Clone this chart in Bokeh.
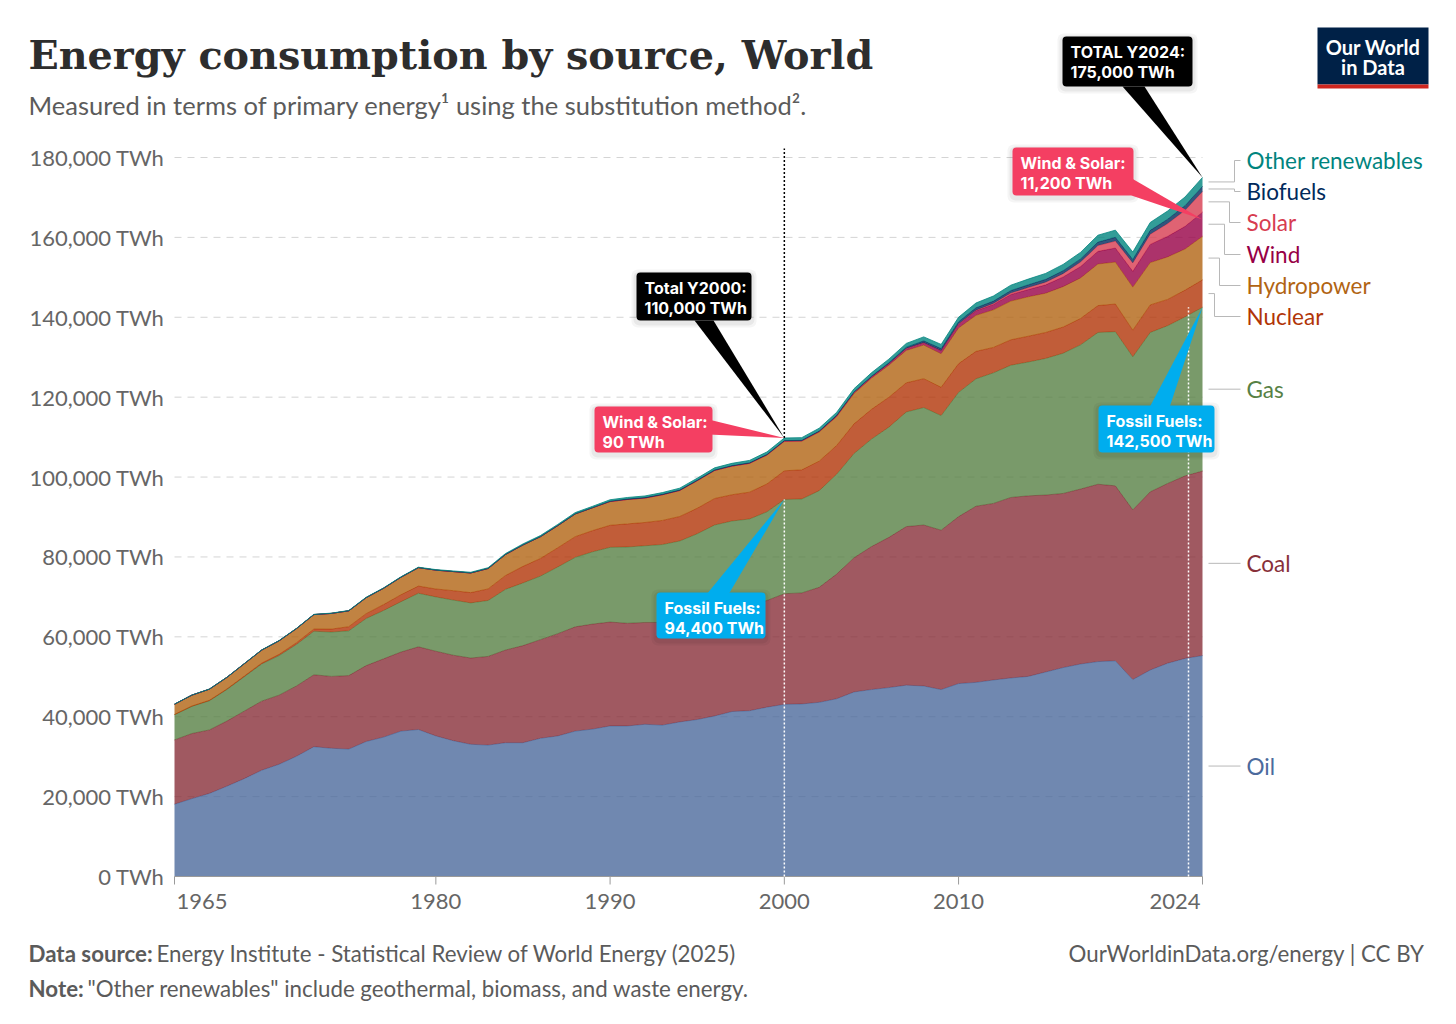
import pandas as pd
from bokeh.plotting import figure
from bokeh.core.properties import value
from bokeh.embed import file_html
from bokeh.resources import INLINE

# ---- data (TWh, substitution method) ----
years = list(range(1965, 2025))

oil = [18100, 19500, 20800, 22600, 24500, 26600, 28100, 30100, 32500, 32100,
       31900, 33800, 34900, 36400, 36800, 35200, 34000, 33100, 32900, 33500,
       33500, 34600, 35200, 36400, 36900, 37700, 37700, 38100, 37900, 38700,
       39300, 40200, 41300, 41500, 42400, 43100, 43200, 43600, 44500, 46200,
       46800, 47300, 47900, 47700, 46800, 48300, 48600, 49200, 49700, 50100,
       51200, 52300, 53200, 53800, 54000, 49300, 51700, 53400, 54600, 55300]
coal = [16100, 16300, 15900, 16300, 16900, 17300, 17300, 17600, 18000, 18000,
        18400, 19000, 19600, 19800, 20700, 21200, 21400, 21600, 22200, 23200,
        24300, 24700, 25600, 26100, 26300, 26000, 25700, 25500, 25700, 25700,
        26200, 26500, 26500, 26400, 26700, 27700, 27800, 28800, 31200, 33600,
        35800, 37600, 39700, 40300, 39900, 41800, 44100, 44200, 45200, 45200,
        44300, 43600, 43800, 44400, 43800, 42500, 44600, 45000, 45700, 46200]
gas = [6300, 6800, 7300, 7900, 8600, 9300, 9900, 10400, 10900, 11100,
       11200, 11800, 12100, 12600, 13400, 13600, 13800, 13800, 14000, 15200,
       15700, 15900, 16700, 17400, 18100, 18700, 19100, 19200, 19500, 19600,
       20300, 21300, 21200, 21600, 22200, 23600, 23500, 24200, 25000, 26100,
       26900, 27600, 28700, 29400, 28700, 31100, 31900, 32700, 33100, 33500,
       34200, 35100, 36100, 38000, 38600, 38300, 39900, 39500, 39800, 41000]
nuclear = [70, 90, 110, 140, 170, 220, 310, 430, 560, 740,
           1040, 1210, 1480, 1740, 1810, 1980, 2360, 2570, 2900, 3470,
           4140, 4420, 4810, 5180, 5310, 5530, 5780, 5830, 6040, 6140,
           6390, 6640, 6580, 6720, 6970, 7170, 7310, 7380, 7190, 7420,
           7450, 7480, 7300, 7230, 7080, 7200, 6870, 6360, 6370, 6460,
           6500, 6560, 6600, 6730, 6920, 6670, 6900, 6580, 6700, 6870]
hydro = [2560, 2720, 2780, 2890, 3080, 3250, 3390, 3530, 3610, 3920,
         3970, 4000, 4080, 4390, 4610, 4720, 4780, 4920, 5110, 5250,
         5360, 5440, 5530, 5690, 5720, 5920, 6110, 6110, 6420, 6500,
         6890, 7000, 7140, 7190, 7220, 7360, 7180, 7270, 7220, 7580,
         7800, 8020, 8100, 8400, 8390, 8920, 9020, 9400, 9680, 9870,
         9820, 10110, 10150, 10410, 10490, 10780, 10590, 10630, 10290, 10900]
wind = [0, 0, 0, 0, 0, 0, 0, 0, 0, 0,
        0, 0, 0, 0, 0, 0, 0, 1, 2, 3,
        6, 8, 10, 11, 12, 11, 13, 15, 18, 20,
        22, 26, 33, 42, 60, 86, 105, 143, 172, 230,
        280, 356, 452, 581, 724, 892, 1132, 1345, 1651, 1812,
        2102, 2419, 2850, 3163, 3523, 3955, 4556, 5153, 5672, 6050]
solar = [0, 0, 0, 0, 0, 0, 0, 0, 0, 0,
         0, 0, 0, 0, 0, 0, 0, 0, 0, 0,
         0, 0, 0, 0, 0, 1, 1, 1, 1, 1,
         1, 2, 2, 2, 2, 3, 4, 5, 6, 7,
         11, 14, 20, 32, 52, 83, 163, 250, 346, 484,
         648, 828, 1118, 1445, 1737, 2089, 2537, 3190, 4010, 5150]
biofuels = [0, 0, 0, 0, 0, 0, 0, 0, 0, 0,
            0, 0, 0, 0, 0, 0, 0, 0, 0, 0,
            0, 0, 0, 0, 0, 100, 105, 100, 100, 105,
            115, 120, 125, 120, 110, 110, 115, 130, 160, 180,
            215, 270, 350, 470, 520, 590, 600, 600, 650, 710,
            730, 750, 800, 880, 950, 890, 980, 1100, 1200, 1290]
other = [30, 32, 35, 38, 42, 48, 52, 58, 65, 75,
         80, 88, 95, 105, 115, 130, 150, 170, 195, 230,
         260, 280, 300, 320, 340, 360, 380, 410, 430, 460,
         490, 520, 560, 590, 620, 650, 650, 700, 740, 800,
         840, 880, 930, 980, 1040, 1120, 1190, 1270, 1340, 1420,
         1480, 1560, 1630, 1720, 1790, 1850, 1970, 2050, 2150, 2250]

sources = ["Oil", "Coal", "Gas", "Nuclear", "Hydropower", "Wind", "Solar",
           "Biofuels", "Other renewables"]
colors = ["#4C6A9C", "#883039", "#578145", "#B13507", "#B16413", "#970046",
          "#D73C50", "#00295B", "#00847E"]

y_ticks = [0, 20000, 40000, 60000, 80000, 100000, 120000, 140000, 160000, 180000]
x_ticks = [1965, 1980, 1990, 2000, 2010, 2024]

df = pd.DataFrame(dict(zip(sources, [oil, coal, gas, nuclear, hydro, wind, solar,
                                     biofuels, other])), index=years)
cum = df.cumsum(axis=1)
fossil = cum["Gas"]
total = cum["Other renewables"]

# ---- geometry: the frame is the whole canvas, positions given in pixels ----
W, H = 1440, 1008
PPY = (1202 - 174) / (2024 - 1965)      # pixels per year
TPP = 180000 / (876 - 157)              # TWh per pixel


def X(px):
    return 1965 + (px - 174) / PPY


def Y(py):
    return (876 - py) * TPP


p = figure(width=W, height=H, output_backend="svg", toolbar_location=None,
           x_range=(X(0), X(W)), y_range=(Y(H), Y(0)),
           x_axis_location=None, y_axis_location=None,
           min_border=0)
p.outline_line_color = None
p.grid.visible = False
p.background_fill_color = "white"
p.border_fill_color = "white"

LATO = value("Lato")
GREY = "#666666"

# y axis labels + dashed grid across the data area
grid = [t for t in y_ticks if t > 0]
p.segment(x0=[1965] * len(grid), y0=grid, x1=[2024] * len(grid), y1=grid,
          line_color="#d4d4d4", line_dash="7 6", line_width=1)
p.text(x=[X(164)] * len(y_ticks), y=y_ticks, text=[f"{t:,} TWh" for t in y_ticks],
       text_font=LATO, text_font_size="22px", text_color=GREY,
       text_align="right", text_baseline="middle")

# stacked areas
prev = [0] * len(years)
for name, c in zip(sources, colors):
    top = cum[name].tolist()
    p.varea(x=years, y1=prev, y2=top, fill_color=c, fill_alpha=0.8)
    p.line(x=years, y=top, line_color=c, line_width=0.8)
    prev = top

# x axis: baseline, ticks, labels
p.line(x=[1965, 2024], y=[0, 0], line_color="#9a9a9a", line_width=1.2)
p.segment(x0=x_ticks, y0=[0] * len(x_ticks), x1=x_ticks, y1=[Y(884)] * len(x_ticks),
          line_color="#9a9a9a", line_width=1)
for ticks, align, off in ((x_ticks[:1], "left", 2), (x_ticks[1:-1], "center", 0),
                          (x_ticks[-1:], "right", -2)):
    p.text(x=ticks, y=[Y(901)] * len(ticks), text=[str(t) for t in ticks],
           x_offset=off, text_font=LATO, text_font_size="22px", text_color=GREY,
           text_align=align, text_baseline="middle")

# reference lines
p.segment(x0=[2000], y0=[total[2000]], x1=[2000], y1=[Y(148)],
          line_color="black", line_dash="2 2", line_width=1.5)
p.segment(x0=[2000], y0=[0], x1=[2000], y1=[fossil[2000]],
          line_color="white", line_dash="2 2", line_width=1.5)
p.segment(x0=[X(1188)], y0=[0], x1=[X(1188)], y1=[fossil[2024]],
          line_color="white", line_dash="2 2", line_width=1.5)


def callout(box, base, tip, color, lines):
    l, t, r, b = box
    for grow, a in ((5, 0.04), (3, 0.05)):
        p.quad(left=[X(l - grow)], right=[X(r + grow)], top=[Y(t - grow + 2)],
               bottom=[Y(b + grow + 2)], fill_color="black", fill_alpha=a,
               line_color=None, border_radius=6)
    p.patch(x=[X(base[0][0]), X(base[1][0]), tip[0]],
            y=[Y(base[0][1]), Y(base[1][1]), tip[1]],
            fill_color=color, line_color=None)
    p.quad(left=[X(l)], right=[X(r)], top=[Y(t)], bottom=[Y(b)],
           fill_color=color, line_color=None, border_radius=4)
    for i, txt in enumerate(lines):
        p.text(x=[X(l + 8)], y=[Y(t + 15 + 20 * i)], text=[txt],
               text_font=value("Inter"), text_font_style="bold",
               text_font_size="16px", text_color="white",
               text_baseline="middle")


pink, black, blue = "#F43F62", "#000000", "#00ADEE"
callout((594, 406, 712, 452), ((708, 419), (708, 434)), (2000, total[2000]),
        pink, ["Wind & Solar:", "90 TWh"])
callout((636, 272, 751, 320), ((694, 320), (713, 320)), (2000, total[2000]),
        black, ["Total Y2000:", "110,000 TWh"])
callout((656, 592, 765, 638), ((706, 594), (728, 594)), (2000, fossil[2000]),
        blue, ["Fossil Fuels:", "94,400 TWh"])
callout((1012, 147, 1133, 195), ((1128, 176), (1128, 194)), (2024, Y(219)),
        pink, ["Wind & Solar:", "11,200 TWh"])
callout((1062, 36, 1192, 86), ((1122, 86), (1144, 86)), (2024, total[2024]),
        black, ["TOTAL Y2024:", "175,000 TWh"])
callout((1098, 405, 1214, 452), ((1149, 407), (1169, 407)), (2024, fossil[2024]),
        blue, ["Fossil Fuels:", "142,500 TWh"])

# right-hand labels with connectors
label_py = {"Other renewables": 160, "Biofuels": 191, "Solar": 222, "Wind": 254,
            "Hydropower": 285, "Nuclear": 316}
elbow_px = {"Other renewables": 1234, "Biofuels": 1234, "Solar": 1229, "Wind": 1224,
            "Hydropower": 1219, "Nuclear": 1214}
lo = 0
for name, c in zip(sources, colors):
    hi = cum[name][2024]
    mid = (lo + hi) / 2
    lo = hi
    ly = Y(label_py[name]) if name in label_py else mid
    if name in elbow_px:
        e = X(elbow_px[name])
        xs, ys = [X(1208), e, e, X(1240)], [mid, mid, ly, ly]
    else:
        xs, ys = [X(1208), X(1240)], [mid, mid]
    p.line(x=xs, y=ys, line_color="#b8b8b8", line_width=1)
    p.text(x=[X(1246)], y=[ly], text=[name], text_font=LATO,
           text_font_size="22.5px", text_color=c, text_baseline="middle")

# logo
p.quad(left=[X(1317)], right=[X(1428)], top=[Y(27)], bottom=[Y(84)],
       fill_color="#002147", line_color=None)
p.quad(left=[X(1317)], right=[X(1428)], top=[Y(84)], bottom=[Y(88)],
       fill_color="#CE261E", line_color=None)
p.text(x=[X(1372.5)] * 2, y=[Y(46), Y(66)], text=["Our World", "in Data"],
       text_font=LATO, text_font_style="bold", text_font_size="20px",
       text_color="white", text_align="center", text_baseline="middle")

# title, subtitle, footer
p.text(x=[X(28)], y=[Y(54)], text=["Energy consumption by source, World"],
       text_font=value("DejaVu Serif"), text_font_style="bold",
       text_font_size="39.7px", text_color="#2d2d2d", text_baseline="middle")
p.text(x=[X(28)], y=[Y(104)],
       text=["Measured in terms of primary energy\u00b9 using the substitution method\u00b2."],
       text_font=LATO, text_font_size="25.5px", text_color="#5b5b5b",
       text_baseline="middle")
foot = dict(text_font=LATO, text_font_size="22.3px", text_color="#5b5b5b",
            text_baseline="middle")
p.text(x=[X(28)], y=[Y(953)], text=["Data source:"], text_font_style="bold", **foot)
p.text(x=[X(156)], y=[Y(953)],
       text=["Energy Institute - Statistical Review of World Energy (2025)"], **foot)
p.text(x=[X(1424)], y=[Y(953)], text=["OurWorldinData.org/energy | CC BY"],
       text_align="right", **foot)
p.text(x=[X(28)], y=[Y(988)], text=["Note:"], text_font_style="bold", **foot)
p.text(x=[X(87)], y=[Y(988)],
       text=["\"Other renewables\" include geothermal, biomass, and waste energy."],
       **foot)

open("out.html", "w").write(file_html(p, INLINE))
